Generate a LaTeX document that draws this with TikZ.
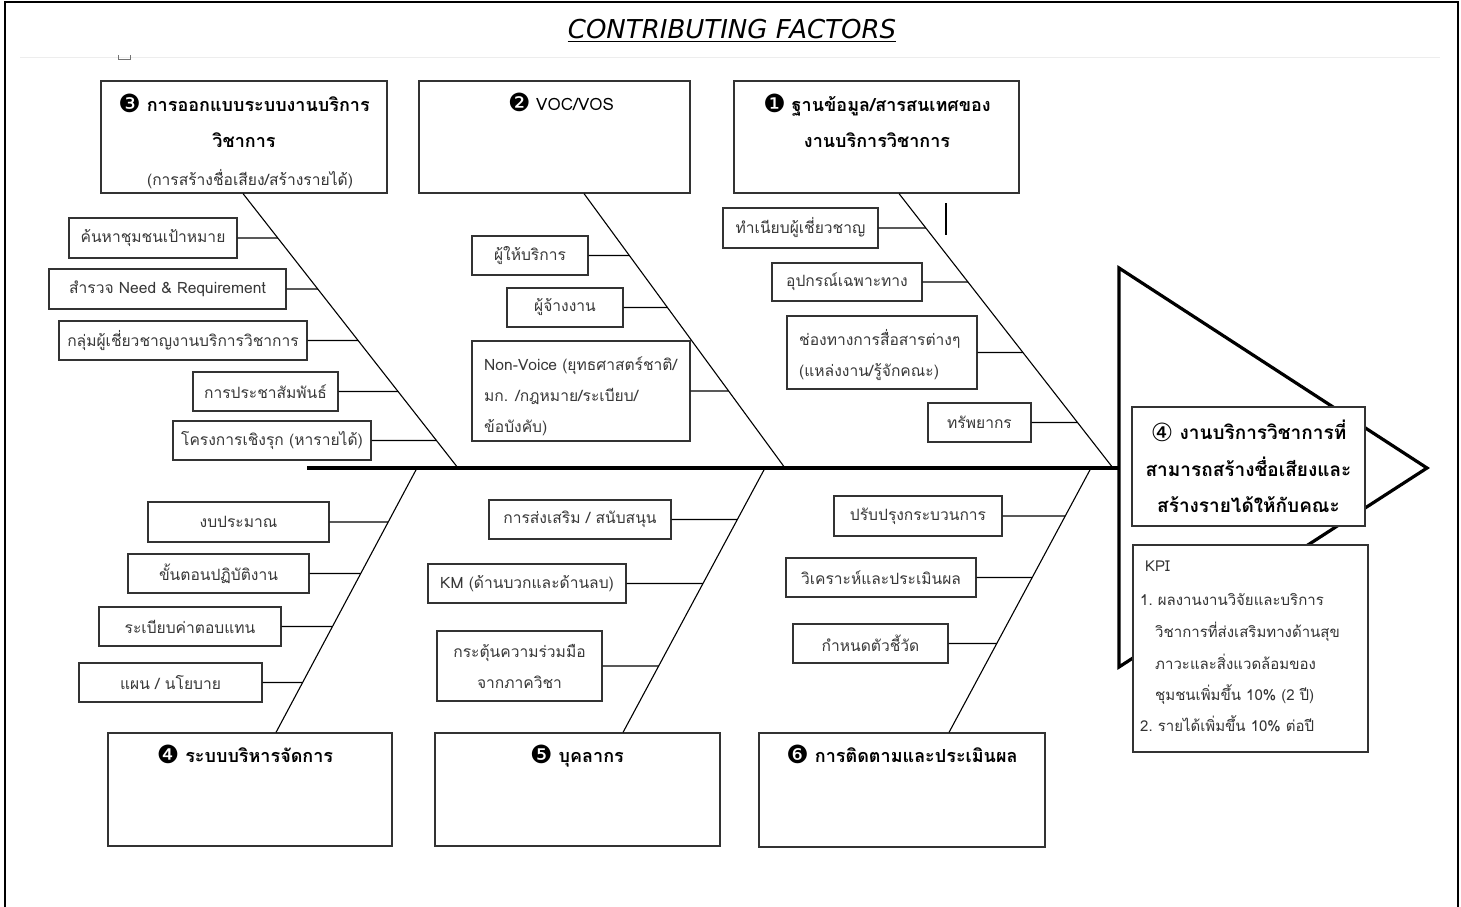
\documentclass[tikz,border=0pt]{standalone}
\usepackage{fontspec}
\setmainfont[Script=Thai]{Loma}
\newfontfamily\symfont{DejaVu Sans}
\newfontfamily\ttlfont{DejaVu Sans}
\usetikzlibrary{calc}
\newcommand\ribto[2]{\draw[ribline] (#1.east) -- (intersection cs:first line={(#2t)--(#2b)}, second line={(#1.east)--([xshift=60pt]#1.east)});}
\newcommand\cnum[1]{\raisebox{-1.5pt}{\symfont\mdseries\fontsize{25}{25}\selectfont #1}}
\begin{document}
\begin{tikzpicture}[x=1pt,y=-1pt,
  every node/.style={inner sep=0pt},
  ribbox/.style={draw=black!80, line width=1.2pt, fill=white, align=center, text=black!78, font=\fontsize{15.6}{31}\selectfont},
  catbox/.style={draw=black!80, line width=1.2pt, fill=white},
  hdr/.style={font=\fontsize{18}{36}\selectfont\bfseries, text=black, anchor=base},
  subtxt/.style={font=\fontsize{15.6}{31}\selectfont, text=black!80},
  kpitxt/.style={font=\fontsize{15}{31}\selectfont, text=black!80, anchor=base west},
  boneline/.style={line width=1.1pt, black},
  ribline/.style={line width=1.1pt, black},
]
\useasboundingbox (0,0) rectangle (1461,907);
% frame
\draw[line width=2.5pt] (5,907) -- (5,2) -- (1458,2) -- (1458,907);
% faint guide line and small mark
\draw[black!7, line width=1pt] (20,58) -- (1440,58);
\draw[black!55, line width=1pt] (118,55) -- (118,60) -- (130,60) -- (130,55);
% title
\node[font=\ttlfont\itshape\fontsize{26}{30}\selectfont] (title) at (732,29) {CONTRIBUTING FACTORS};
\draw[line width=1.3pt] ([yshift=-3pt]title.base west) -- ([yshift=-3pt]title.base east);

% head triangle
\coordinate (triT) at (1119,268);
\coordinate (triP) at (1427,468);
\coordinate (triB) at (1119,667);
\draw[line width=3.2pt, line join=miter] (triT) -- (triP) -- (triB) -- cycle;
% spine
\coordinate (spL) at (307,468);
\coordinate (spR) at (1119,468);
\draw[line width=3.6pt] (spL) -- (spR);

% category boxes top
\node[catbox, minimum width=286pt, minimum height=112pt] (K3) at (244,137) {};
\node[catbox, minimum width=271pt, minimum height=112pt] (K2) at (554.5,137) {};
\node[catbox, minimum width=285pt, minimum height=112pt] (K1) at (876.5,137) {};
\node[hdr] (h3a) at (244,111) {\cnum{❸} การออกแบบระบบงานบริการ};
\node[hdr] (h3b) at (244,147) {วิชาการ};
\node[subtxt, anchor=base] (h3c) at (250,185) {(การสร้างชื่อเสียง/สร้างรายได้)};
\node[subtxt, text=black, anchor=base, font=\fontsize{17}{31}\selectfont] (h2a) at (561,110) {\cnum{❷} VOC/VOS};
\node[hdr] (h1a) at (877,111) {\cnum{❶} ฐานข้อมูล/สารสนเทศของ};
\node[hdr] (h1b) at (877,147) {งานบริการวิชาการ};

% category boxes bottom
\node[catbox, minimum width=284pt, minimum height=113pt] (K4) at (250,789.5) {};
\node[catbox, minimum width=285pt, minimum height=113pt] (K5) at (577.5,789.5) {};
\node[catbox, minimum width=286pt, minimum height=114pt] (K6) at (902,790) {};
\node[hdr] (h4) at (245,762) {\cnum{❹} ระบบบริหารจัดการ};
\node[hdr] (h5) at (577,762) {\cnum{❺} บุคลากร};
\node[hdr] (h6) at (902,762) {\cnum{❻} การติดตามและประเมินผล};

% bones
\coordinate (b3t) at (243,0 |- K3.south);
\coordinate (b3b) at (458,468);
\coordinate (b2t) at (584,0 |- K2.south);
\coordinate (b2b) at (785,468);
\coordinate (b1t) at (899,0 |- K1.south);
\coordinate (b1b) at (1113,468);
\coordinate (b4t) at (417,468);
\coordinate (b4b) at (276,0 |- K4.north);
\coordinate (b5t) at (765,468);
\coordinate (b5b) at (623,0 |- K5.north);
\coordinate (b6t) at (1091,468);
\coordinate (b6b) at (949,0 |- K6.north);
\foreach \b in {b1,b2,b3,b4,b5,b6} {\draw[boneline] (\b t) -- (\b b);}
\coordinate (mkA) at (946,203);
\coordinate (mkB) at (946,235);
\draw[ribline] (mkA) -- (mkB);

% ribs of bone 3
\node[ribbox, minimum width=168pt, minimum height=40pt] (A1) at (153,238) {ค้นหาชุมชนเป้าหมาย};
\node[ribbox, minimum width=237pt, minimum height=40pt] (A2) at (167.5,289) {สำรวจ Need \& Requirement};
\node[ribbox, minimum width=248pt, minimum height=39pt] (A3) at (183,340.5) {กลุ่มผู้เชี่ยวชาญงานบริการวิชาการ};
\node[ribbox, minimum width=145pt, minimum height=39pt] (A4) at (265.5,391.5) {การประชาสัมพันธ์};
\node[ribbox, minimum width=198pt, minimum height=39pt] (A5) at (272,440.5) {โครงการเชิงรุก (หารายได้)};
\ribto{A1}{b3}\ribto{A2}{b3}\ribto{A3}{b3}\ribto{A4}{b3}\ribto{A5}{b3}

% ribs of bone 2
\node[ribbox, minimum width=116pt, minimum height=39pt] (B1) at (530,255.5) {ผู้ให้บริการ};
\node[ribbox, minimum width=116pt, minimum height=39pt] (B2) at (565,307.5) {ผู้จ้างงาน};
\node[ribbox, minimum width=218pt, minimum height=100pt] (B3) at (581,391) {};
\node[subtxt, text=black!78, anchor=west, align=left] (B3t) at (484,396) {Non-Voice (ยุทธศาสตร์ชาติ/\\มก. /กฎหมาย/ระเบียบ/\\ข้อบังคับ)};
\ribto{B1}{b2}\ribto{B2}{b2}\ribto{B3}{b2}

% ribs of bone 1
\node[ribbox, minimum width=155pt, minimum height=40pt] (C1) at (800.5,228) {ทำเนียบผู้เชี่ยวชาญ};
\node[ribbox, minimum width=150pt, minimum height=38pt] (C2) at (847,282) {อุปกรณ์เฉพาะทาง};
\node[ribbox, minimum width=190pt, minimum height=73pt] (C3) at (882,352.5) {};
\node[subtxt, text=black!78, anchor=west, align=left] (C3t) at (799,355) {ช่องทางการสื่อสารต่างๆ\\(แหล่งงาน/รู้จักคณะ)};
\node[ribbox, minimum width=103pt, minimum height=39pt] (C4) at (979.5,422.5) {ทรัพยากร};
\ribto{C1}{b1}\ribto{C2}{b1}\ribto{C3}{b1}\ribto{C4}{b1}

% ribs of bone 4
\node[ribbox, minimum width=181pt, minimum height=40pt] (D1) at (238.5,522) {งบประมาณ};
\node[ribbox, minimum width=181pt, minimum height=39pt] (D2) at (218.5,573.5) {ขั้นตอนปฏิบัติงาน};
\node[ribbox, minimum width=182pt, minimum height=39pt] (D3) at (190,626.5) {ระเบียบค่าตอบแทน};
\node[ribbox, minimum width=183pt, minimum height=39pt] (D4) at (170.5,682.5) {แผน / นโยบาย};
\ribto{D1}{b4}\ribto{D2}{b4}\ribto{D3}{b4}\ribto{D4}{b4}

% ribs of bone 5
\node[ribbox, minimum width=182pt, minimum height=39pt] (E1) at (580,519.5) {การส่งเสริม / สนับสนุน};
\node[ribbox, minimum width=198pt, minimum height=39pt] (E2) at (527,583.5) {KM (ด้านบวกและด้านลบ)};
\node[ribbox, minimum width=165pt, minimum height=70pt] (E3) at (519.5,666) {กระตุ้นความร่วมมือ\\จากภาควิชา};
\ribto{E1}{b5}\ribto{E2}{b5}\ribto{E3}{b5}

% ribs of bone 6
\node[ribbox, minimum width=168pt, minimum height=40pt] (F1) at (918,516) {ปรับปรุงกระบวนการ};
\node[ribbox, minimum width=190pt, minimum height=39pt] (F2) at (881,577.5) {วิเคราะห์และประเมินผล};
\node[ribbox, minimum width=155pt, minimum height=39pt] (F3) at (870.5,643.5) {กำหนดตัวชี้วัด};
\ribto{F1}{b6}\ribto{F2}{b6}\ribto{F3}{b6}

% head box
\node[catbox, minimum width=233pt, minimum height=119pt, align=center, font=\fontsize{19}{36.5}\selectfont\bfseries] (head) at (1248.5,466.5) {\cnum{④} งานบริการวิชาการที่\\สามารถสร้างชื่อเสียงและ\\สร้างรายได้ให้กับคณะ};

% KPI box
\node[catbox, minimum width=235pt, minimum height=207pt] (kpi) at (1250.5,648.5) {};
\node[kpitxt] (k0) at (1145,571) {KPI};
\node[kpitxt] (k1) at (1140,605) {1.\ ผลงานงานวิจัยและบริการ};
\node[kpitxt] (k2) at (1155,637) {วิชาการที่ส่งเสริมทางด้านสุข};
\node[kpitxt] (k3) at (1155,669) {ภาวะและสิ่งแวดล้อมของ};
\node[kpitxt] (k4) at (1155,700) {ชุมชนเพิ่มขึ้น 10\% (2 ปี)};
\node[kpitxt] (k5) at (1140,731) {2.\ รายได้เพิ่มขึ้น 10\% ต่อปี};
\end{tikzpicture}
\end{document}
